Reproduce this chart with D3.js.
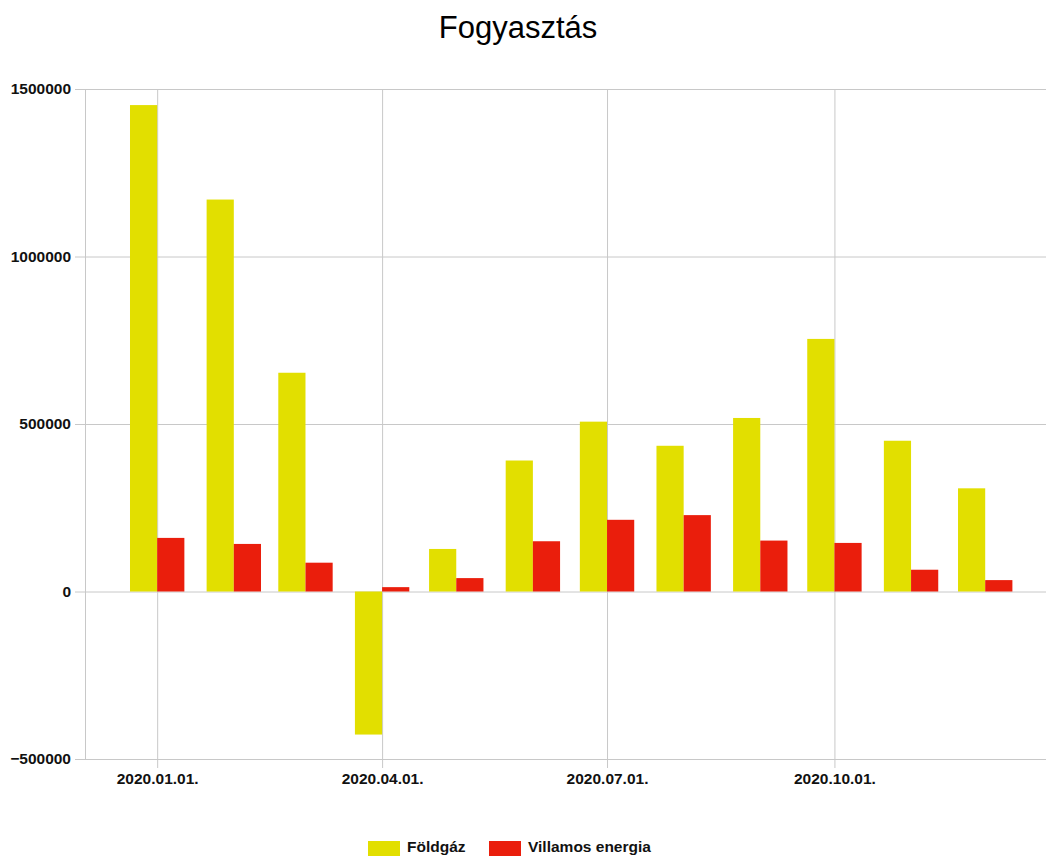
<!DOCTYPE html>
<html>
<head>
<meta charset="utf-8">
<script src="https://cdn.jsdelivr.net/npm/d3@7"></script>
<style>
  body { margin: 0; background: #fff; }
  svg { display: block; font-family: "Liberation Sans", Arial, sans-serif; }
</style>
</head>
<body>
<svg width="1046" height="856"></svg>
<script>
// data
const months = ["2020-01-01", "2020-02-01", "2020-03-01", "2020-04-01", "2020-05-01", "2020-06-01",
                "2020-07-01", "2020-08-01", "2020-09-01", "2020-10-01", "2020-11-01", "2020-12-01"];
const foldgaz = [1452000, 1170000, 653000, -427000, 127000, 391000, 507000, 435000, 518000, 754000, 450000, 308000];
const villamos = [160000, 142000, 86000, 13000, 40000, 150000, 214000, 228000, 152000, 145000, 65000, 34000];
const seriesNames = ["Földgáz", "Villamos energia"];
const yTicks = [-500000, 0, 500000, 1000000, 1500000];
const xTicks = ["2020-01-01", "2020-04-01", "2020-07-01", "2020-10-01"];

const yellowColor = "#e2df00";
const redColor = "#ea1e0c";
const gridColor = "#c8c8c8";
const textColor = "#111111";

const parse = d3.timeParse("%Y-%m-%d");
const fmt = d3.timeFormat("%Y.%m.%d.");

// svg setup
const svg = d3.select("svg");

const plotLeft = 85.5, plotRight = 1046, plotTop = 89, plotBottom = 759;

// time axis, about 2.47 px per day
const jan1 = parse(months[0]);
const x = d3.scaleTime()
    .domain([d3.timeDay.offset(jan1, -29), d3.timeDay.offset(jan1, 360)])
    .range([plotLeft, plotRight + 1]);
const y = d3.scaleLinear()
    .domain([-500000, 1500000])
    .range([plotBottom, plotTop]);

const barDays = 11.5;
const barW = x(d3.timeDay.offset(jan1, barDays)) - x(jan1);

// horizontal grid + y labels
const yAxis = svg.append("g")
    .attr("transform", "translate(75,0)")
    .call(d3.axisLeft(y).tickValues(yTicks).tickSize(-(plotRight - 75)).tickPadding(4).tickFormat(d3.format("d")));
yAxis.select(".domain").remove();
yAxis.selectAll("line").attr("stroke", gridColor);
yAxis.selectAll("text")
    .attr("fill", textColor)
    .attr("font-size", 15.5)
    .attr("font-weight", "bold")
    .attr("font-family", "Liberation Sans, Arial, sans-serif");

// vertical grid + x labels
const xAxis = svg.append("g")
    .attr("transform", "translate(0,768)")
    .call(d3.axisBottom(x).tickValues(xTicks.map(parse)).tickSize(-(768 - plotTop)).tickPadding(5).tickFormat(fmt));
xAxis.select(".domain").remove();
xAxis.selectAll("line").attr("stroke", gridColor);
xAxis.selectAll("text")
    .attr("fill", textColor)
    .attr("font-size", 15.5)
    .attr("font-weight", "bold")
    .attr("font-family", "Liberation Sans, Arial, sans-serif");

// left frame
svg.append("line")
    .attr("x1", plotLeft).attr("x2", plotLeft)
    .attr("y1", plotTop).attr("y2", plotBottom)
    .attr("stroke", gridColor);

// bars
const rows = months.map((m, i) => ({ date: parse(m), gas: foldgaz[i], elec: villamos[i] }));
const bars = svg.append("g");
bars.selectAll("rect.gas")
    .data(rows)
    .join("rect")
    .attr("class", "gas")
    .attr("x", d => x(d.date) - barW)
    .attr("width", barW)
    .attr("y", d => y(Math.max(0, d.gas)))
    .attr("height", d => Math.abs(y(d.gas) - y(0)))
    .attr("fill", yellowColor);
bars.selectAll("rect.elec")
    .data(rows)
    .join("rect")
    .attr("class", "elec")
    .attr("x", d => x(d.date))
    .attr("width", barW)
    .attr("y", d => y(Math.max(0, d.elec)))
    .attr("height", d => Math.abs(y(d.elec) - y(0)))
    .attr("fill", redColor);

// title
svg.append("text")
    .attr("x", 518)
    .attr("y", 38)
    .attr("text-anchor", "middle")
    .attr("font-size", 31)
    .attr("fill", "#000")
    .text("Fogyasztás");

// legend (sits at the very bottom edge, like the original)
const legend = svg.append("g");
const legendItems = [
    { name: seriesNames[0], color: yellowColor, x: 368 },
    { name: seriesNames[1], color: redColor, x: 489 }
];
legendItems.forEach(item => {
    legend.append("rect")
        .attr("x", item.x).attr("y", 841)
        .attr("width", 32).attr("height", 15)
        .attr("fill", item.color);
    legend.append("text")
        .attr("x", item.x + 39)
        .attr("y", 852)
        .attr("font-size", 15.5)
        .attr("font-weight", "bold")
        .attr("fill", textColor)
        .text(item.name);
});
</script>
</body>
</html>
